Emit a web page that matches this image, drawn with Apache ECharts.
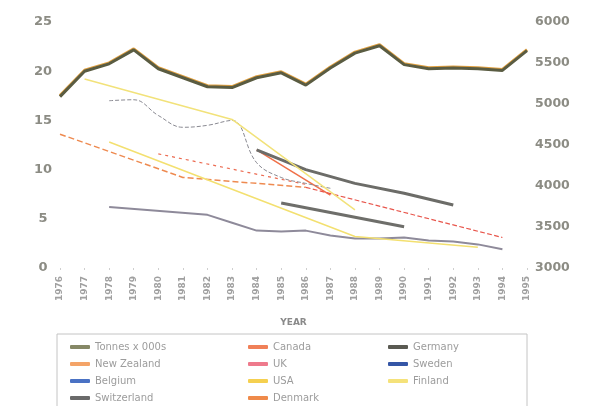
<!DOCTYPE html>
<html>
<head>
<meta charset="utf-8">
<script src="https://cdn.jsdelivr.net/npm/echarts@6/dist/echarts.min.js"></script>
<style>
  html, body { margin: 0; padding: 0; background: #fff; }
  #chart { width: 610px; height: 406px; }
</style>
</head>
<body>
<div id="chart"></div>
<script>
// values; nulls are joined with straight segments
const years = ['1976','1977','1978','1979','1980','1981','1982','1983','1984','1985',
  '1986','1987','1988','1989','1990','1991','1992','1993','1994','1995'];
const leftTicks = [0, 5, 10, 15, 20, 25];
const rightTicks = [3000, 3500, 4000, 4500, 5000, 5500, 6000];

const tonnes = [5090, 5400, 5490, 5660, 5430, 5320, 5210, 5200, 5320, 5380,
  5230, 5440, 5620, 5710, 5480, 5430, 5440, 5430, 5410, 5650];
const newZealand = [13.6, null, null, null, null, 9.2, null, null, null, null,
  8.2, null, null, null, null, null, null, null, null, null];
const belgium = [null, null, 6.2, null, null, null, 5.4, 4.6, 3.8, 3.7,
  3.8, 3.3, 3.0, 3.0, 3.1, 2.8, 2.7, 2.4, 1.9, null];
const switzerland = [null, null, null, null, null, null, null, null, null, 6.6,
  null, null, null, null, 4.2, null, null, null, null, null];
const canada = [null, null, null, null, null, null, null, null, 12.0, null,
  null, 7.4, null, null, null, null, null, null, null, null];
const uk = [null, null, null, null, null, null, null, null, null, null,
  8.2, null, null, null, null, null, null, null, 3.1, null];
const usa = [null, null, 12.8, null, null, null, null, null, null, null,
  null, null, 3.2, null, null, null, null, 2.1, null, null];
const denmark = [null, null, null, null, 11.6, null, null, null, null, null,
  8.5, null, null, null, null, null, null, null, null, null];
const germany = [null, null, null, null, null, null, null, null, 12.0, null,
  10.0, null, 8.6, null, 7.6, null, 6.4, null, null, null];
const sweden = [null, null, 17.0, 17.1, 15.5, 14.3, 14.5, 15.0, 10.7, 9.2,
  8.6, 8.1, null, null, null, null, null, null, null, null];
const finland = [null, 19.2, null, null, null, null, null, 15.1, null, null,
  null, null, 5.9, null, null, null, null, null, null, null];

const labelFont = 'DejaVu Sans';

const line = (name, data, legendColor, lineColor, width, type, extra) => Object.assign({
  name,
  type: 'line',
  data,
  yAxisIndex: 0,
  connectNulls: true,
  symbol: 'none',
  color: legendColor,
  lineStyle: { color: lineColor, width, type }
}, extra || {});

const legendBase = {
  orient: 'vertical',
  top: 341,
  padding: 0,
  icon: 'roundRect',
  itemWidth: 20,
  itemHeight: 4,
  itemGap: 5,
  textStyle: { fontFamily: labelFont, fontSize: 10, lineHeight: 12, color: '#9c9c9c' },
  selectedMode: false
};

const chart = echarts.init(document.getElementById('chart'), null, { renderer: 'canvas' });
chart.setOption({
  backgroundColor: '#fff',
  animation: false,
  grid: { left: 60, right: 83, top: 22, bottom: 138, containLabel: false },
  legend: [
    Object.assign({}, legendBase, { left: 70, data: ['Tonnes x 000s', 'New Zealand', 'Belgium', 'Switzerland'] }),
    Object.assign({}, legendBase, { left: 248, data: ['Canada', 'UK', 'USA', 'Denmark'] }),
    Object.assign({}, legendBase, { left: 388, data: ['Germany', 'Sweden', 'Finland'] })
  ],
  graphic: [{
    type: 'rect',
    shape: { x: 57, y: 334, width: 470, height: 80 },
    style: { fill: 'none', stroke: '#c4c4c4', lineWidth: 1 },
    silent: true
  }],
  xAxis: {
    type: 'category',
    data: years,
    boundaryGap: false,
    name: 'YEAR',
    nameLocation: 'middle',
    nameGap: 50,
    nameTextStyle: { fontFamily: labelFont, fontSize: 9, fontWeight: 'bold', color: '#8a8a8a' },
    axisLine: { show: false },
    axisTick: { show: true, length: 2, lineStyle: { color: '#cfcfcf' } },
    axisLabel: {
      rotate: 90, margin: 8, interval: 0,
      fontFamily: labelFont, fontSize: 9, fontWeight: 'bold', color: '#a0a0a0'
    },
    splitLine: { show: false }
  },
  yAxis: [{
    type: 'value',
    min: leftTicks[0],
    max: leftTicks[leftTicks.length - 1],
    interval: 5,
    axisLine: { show: false },
    axisTick: { show: false },
    splitLine: { show: false },
    axisLabel: {
      align: 'center', margin: 17,
      fontFamily: labelFont, fontSize: 13, fontWeight: 'bold', color: '#8c8c84'
    }
  }, {
    type: 'value',
    position: 'right',
    min: rightTicks[0],
    max: rightTicks[rightTicks.length - 1],
    interval: 500,
    axisLine: { show: false },
    axisTick: { show: false },
    splitLine: { show: false },
    axisLabel: {
      margin: 8,
      formatter: (v) => String(v),
      fontFamily: labelFont, fontSize: 12.5, fontWeight: 'bold', color: '#8c8c84'
    }
  }],
  series: [
    line('Tonnes x 000s', tonnes, '#868866', '#5a5c42', 3, 'solid', {
      yAxisIndex: 1, z: 5,
      lineStyle: { color: '#5a5c42', width: 3, shadowColor: '#e0a040', shadowBlur: 0, shadowOffsetY: -1 }
    }),
    line('New Zealand', newZealand, '#f4a468', '#ee8a50', 1.5, 'dashed'),
    line('Belgium', belgium, '#4a72c4', '#8e8a9a', 2),
    line('Switzerland', switzerland, '#6a6a6a', '#6e6e6a', 3),
    line('Canada', canada, '#f08058', '#f07048', 1.5),
    line('UK', uk, '#ee7a8c', '#e8564c', 1.2, 'dashed'),
    line('USA', usa, '#f5d050', '#f3e070', 1.5),
    line('Denmark', denmark, '#ef8a4a', '#ec6a50', 1.2, [3, 4]),
    line('Germany', germany, '#5a5a52', '#6c6c68', 3),
    line('Sweden', sweden, '#3556a6', '#8a8a92', 1, [4, 2], { smooth: 0.4 }),
    line('Finland', finland, '#f5e27a', '#f2e27a', 1.5)
  ]
});
</script>
</body>
</html>
